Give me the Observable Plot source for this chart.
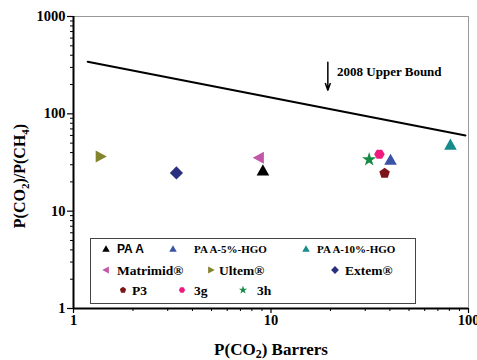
<!DOCTYPE html>
<html>
<head>
<meta charset="utf-8">
<script src="https://cdn.jsdelivr.net/npm/d3@7"></script>
<script src="https://cdn.jsdelivr.net/npm/@observablehq/plot@0.6"></script>
<style>
  html, body { margin: 0; padding: 0; background: #fff; }
  #chart { position: relative; width: 477px; height: 360px; }
</style>
</head>
<body>
<div id="chart"></div>
<script>
// ---- data ----
const series = ["PAA", "PAA-5%-HGO", "PAA-10%-HGO", "Matrimid®", "Ultem®", "Extem®", "P3", "3g", "3h"];
const legendLabels = ["PA A", "PA A-5%-HGO", "PA A-10%-HGO", "Matrimid®", "Ultem®", "Extem®", "P3", "3g", "3h"];
const pCO2 = [9.1, 40.3, 81, 8.7, 1.37, 3.32, 37.6, 35.4, 31.4];
const selectivity = [26.1, 33.6, 48, 35.3, 36.4, 24.7, 24.5, 38.4, 33.9];
const colors = ["#000000", "#3a52a8", "#178a8a", "#c257a8", "#84842e", "#2b2f80", "#7c1519", "#f0197f", "#178a45"];

const boundX = [1.18, 96.6];
const boundY = [343, 60];
const boundLabel = "2008 Upper Bound";
const arrowX = [19.4];
const arrowTopY = [338];
const arrowBottomY = [175];
const labelX = [21.6];
const labelY = [271];

const xMajor = [1, 10, 100];
const yMajor = [1, 10, 100, 1000];

// ---- symbols ----
function poly(pts, k = 1) {
  return { draw(ctx, size) {
    const s = Math.sqrt(size / Math.PI) * k;
    pts.forEach(([a, b], i) => i ? ctx.lineTo(a * s, b * s) : ctx.moveTo(a * s, b * s));
    ctx.closePath();
  }};
}
const triUp = poly([[0, -1.05], [1.05, 0.8], [-1.05, 0.8]]);
const triRight = poly([[1.05, 0], [-0.8, 1.0], [-0.8, -1.0]]);
const triLeft = poly([[-1.05, 0], [0.8, 1.0], [0.8, -1.0]]);
const diamond = poly([[0, -1.1], [1.1, 0], [0, 1.1], [-1.1, 0]]);
const pentagon = poly(d3.range(5).map(i => { const a = -Math.PI / 2 + i * 2 * Math.PI / 5; return [Math.cos(a), Math.sin(a)]; }), 0.92);
const hexagon = poly(d3.range(6).map(i => { const a = i * Math.PI / 3; return [Math.cos(a), Math.sin(a)]; }), 0.88);
const star = { draw(ctx, size) { d3.symbolStar.draw(ctx, size * 0.55); } };
const symbols = [triUp, triUp, triUp, triLeft, triRight, diamond, pentagon, hexagon, star];

const points = series.map((s, i) => ({ s, x: pCO2[i], y: selectivity[i] }));
const minor = (lo, hi) => d3.range(lo, hi).flatMap(e => d3.range(2, 10).map(k => k * 10 ** e));

const serif = "'Liberation Serif', 'Times New Roman', serif";
const tickFont = { fontFamily: serif, fontWeight: "bold", fontSize: 14.5 };

const chart = Plot.plot({
  width: 477, height: 360,
  marginLeft: 73, marginRight: 9, marginTop: 16, marginBottom: 52,
  style: { fontFamily: serif, color: "#000", background: "#fff" },
  x: { type: "log", domain: [1, 100] },
  y: { type: "log", domain: [1, 1000] },
  symbol: { domain: series, range: symbols },
  color: { domain: series, range: colors },
  marks: [
    Plot.frame({ stroke: "#999", strokeWidth: 1 }),
    Plot.axisY(yMajor, { tickSize: 6, tickPadding: 2, tickFormat: d => String(d), label: null, ...tickFont, strokeWidth: 1.2 }),
    Plot.axisY(minor(0, 3), { tickSize: 3, tickFormat: () => "", label: null }),
    Plot.axisX(xMajor, { tickSize: 5, tickPadding: 1, tickFormat: d => String(d), label: null, ...tickFont, strokeWidth: 1.2 }),
    Plot.axisX(minor(0, 2), { tickSize: 3, tickFormat: () => "", label: null }),
    Plot.ruleX([1], { stroke: "#000", strokeWidth: 2 }),
    Plot.ruleY([1], { stroke: "#000", strokeWidth: 2 }),
    Plot.line(boundX.map((x, i) => ({ x, y: boundY[i] })), { x: "x", y: "y", stroke: "#000", strokeWidth: 2 }),
    Plot.arrow(arrowX.map((x, i) => ({ x, y1: arrowTopY[i], y2: arrowBottomY[i] })), { x1: "x", x2: "x", y1: "y1", y2: "y2", stroke: "#000", strokeWidth: 1.5, headLength: 7, headAngle: 40 }),
    Plot.text(labelX.map((x, i) => ({ x, y: labelY[i], t: boundLabel })), { x: "x", y: "y", text: "t", textAnchor: "start", fontFamily: serif, fontWeight: "bold", fontSize: 13 }),
    Plot.dot(points, { x: "x", y: "y", symbol: "s", fill: "s", r: 6 })
  ]
});
document.getElementById("chart").appendChild(chart);

// ---- axis titles with subscripts ----
const svg = d3.select(chart);
const yt = svg.append("text")
  .attr("transform", "translate(25,176) rotate(-90)")
  .attr("text-anchor", "middle")
  .style("font-family", serif).style("font-weight", "bold").style("font-size", "16px").attr("fill", "#000");
yt.append("tspan").text("P(CO");
yt.append("tspan").text("2").attr("font-size", "11px").attr("dy", 4);
yt.append("tspan").text(")/P(CH").attr("dy", -4);
yt.append("tspan").text("4").attr("font-size", "11px").attr("dy", 4);
yt.append("tspan").text(")").attr("dy", -4);

const xt = svg.append("text")
  .attr("transform", "translate(271,355)")
  .attr("text-anchor", "middle")
  .style("font-family", serif).style("font-weight", "bold").style("font-size", "17px").attr("fill", "#000");
xt.append("tspan").text("P(CO");
xt.append("tspan").text("2").attr("font-size", "12px").attr("dy", 3);
xt.append("tspan").text(") Barrers").attr("dy", -3);

// ---- legend (inside plot area) ----
const legendLayout = [
  [106, 249, 117], [173, 249, 194], [306, 249, 317],
  [106, 270, 117], [211, 270, 219], [335, 270, 345],
  [123, 290, 132], [182, 290, 194], [243, 290, 257]
];
const lg = svg.append("g").attr("text-anchor", "start");
lg.append("rect").attr("x", 90.5).attr("y", 238.5).attr("width", 325).attr("height", 65)
  .attr("fill", "#fff").attr("stroke", "#444").attr("stroke-width", 1);
series.forEach((s, i) => {
  const [mx, my, tx] = legendLayout[i];
  lg.append("path").attr("d", d3.symbol(symbols[i], 40)()).attr("transform", `translate(${mx},${my})`).attr("fill", colors[i]);
  const isSans = i === 0;
  const small = i === 1 || i === 2;
  lg.append("text").attr("x", tx).attr("y", my).attr("dy", "0.35em").attr("text-anchor", "start")
    .style("font-family", isSans ? "'Liberation Sans', Arial, sans-serif" : serif)
    .style("font-weight", "bold")
    .style("font-size", isSans ? "12px" : small ? "11px" : "13.5px")
    .attr("fill", "#000").text(legendLabels[i]);
});
</script>
</body>
</html>
